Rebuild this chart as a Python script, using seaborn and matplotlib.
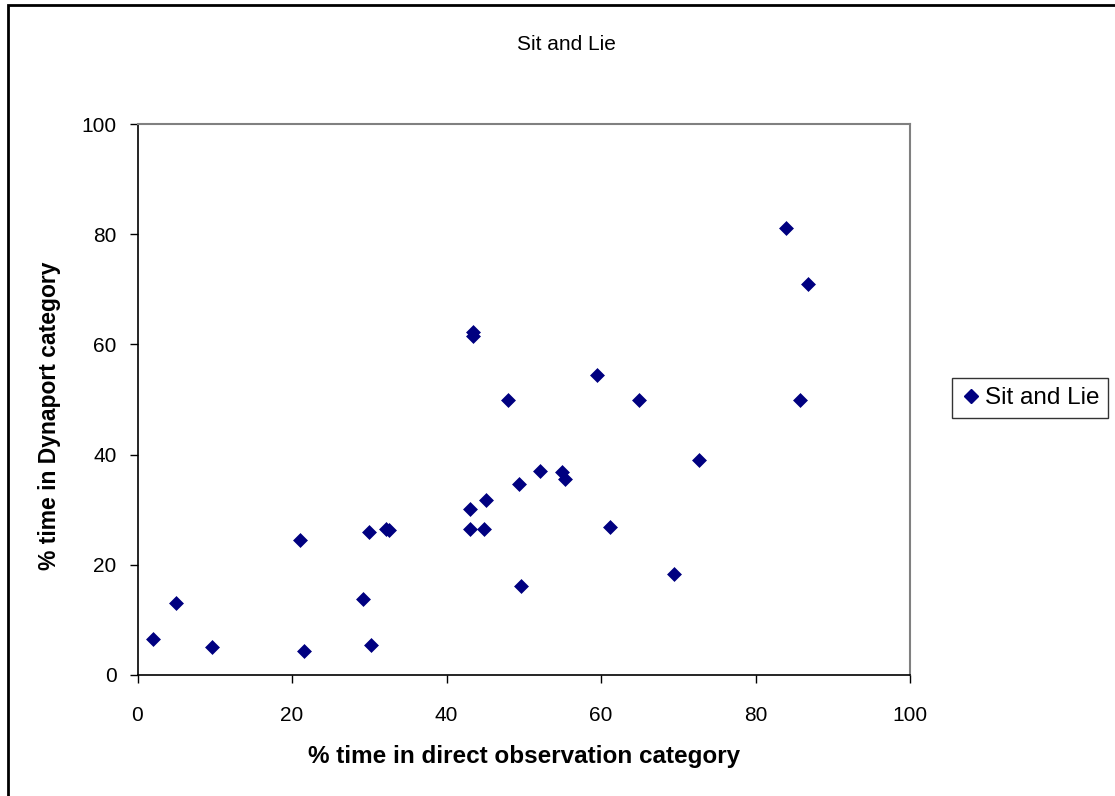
import matplotlib
matplotlib.use("Agg")
import matplotlib.pyplot as plt
import seaborn as sns
import pandas as pd
from matplotlib.patches import Rectangle
from matplotlib.lines import Line2D

# Data
direct_obs = [2.0, 5.0, 9.7, 21.0, 21.6, 29.2, 30.0, 30.2, 32.2, 32.6,
              43.4, 43.4, 59.5, 47.9, 64.9, 72.7, 52.1, 55.0, 55.3, 49.4,
              45.1, 43.1, 43.1, 44.9, 61.2, 69.4, 49.6, 84.0, 86.8, 85.8]
dynaport = [6.5, 13.1, 5.1, 24.5, 4.4, 13.8, 25.9, 5.5, 26.5, 26.3,
            62.3, 61.5, 54.4, 49.9, 49.9, 39.1, 37.0, 36.9, 35.5, 34.6,
            31.8, 30.1, 26.5, 26.5, 26.9, 18.3, 16.2, 81.1, 71.0, 49.9]
series_name = "Sit and Lie"
x_ticks = [0, 20, 40, 60, 80, 100]
y_ticks = [0, 20, 40, 60, 80, 100]

df = pd.DataFrame({"x": direct_obs, "y": dynaport, "series": series_name})

sns.set_theme(style="white")
plt.rcParams["font.family"] = ["Liberation Sans", "DejaVu Sans"]
plt.rcParams["text.color"] = "black"
plt.rcParams["axes.labelcolor"] = "black"

fig = plt.figure(figsize=(11.15, 7.96), dpi=100)
ax = fig.add_axes([137.5 / 1115, 1 - 675 / 796, (910 - 137.5) / 1115, (675 - 124) / 796])

sns.scatterplot(data=df, x="x", y="y", ax=ax, marker="D", s=50,
                color="#000080", edgecolor="#000080", linewidth=0.5, legend=False)

ax.set_xlim(0, 100)
ax.set_ylim(0, 100)
ax.set_xticks(x_ticks)
ax.set_yticks(y_ticks)
ax.tick_params(axis="both", which="major", direction="out", length=6, width=1,
               color="black", labelsize=15, labelcolor="black",
               bottom=True, left=True)
ax.tick_params(axis="x", pad=16)
ax.tick_params(axis="y", pad=9)
for side in ["left", "bottom"]:
    ax.spines[side].set_color("black")
    ax.spines[side].set_linewidth(1.2)
for side in ["top", "right"]:
    ax.spines[side].set_color("#808080")
    ax.spines[side].set_linewidth(1.5)
    ax.spines[side].set_visible(True)

ax.set_xlabel("% time in direct observation category", fontsize=17.5,
              fontweight="bold")
ax.set_ylabel("% time in Dynaport category", fontsize=16.5,
              fontweight="bold")
ax.xaxis.set_label_coords(0.5, -(757 - 675) / 551)
ax.xaxis.label.set_va("center")
ax.yaxis.set_label_coords((50 - 137.5) / 772.5, 0.47)
ax.yaxis.label.set_va("center")

fig.text(566 / 1115, 1 - 44 / 796, "Sit and Lie", ha="center", va="center",
         fontsize=15)

handle = Line2D([], [], marker="D", linestyle="none", color="#000080",
                markersize=7)
leg = fig.legend([handle], [series_name], loc="center left",
                 bbox_to_anchor=(952 / 1115, 1 - 398 / 796), frameon=True,
                 fontsize=17.5, handletextpad=0.1, borderpad=0.35,
                 handlelength=0.9, fancybox=False, borderaxespad=0)
leg.get_frame().set_edgecolor("black")
leg.get_frame().set_linewidth(1.0)

# outer chart frame (left and top visible)
fig.patches.append(Rectangle((8 / 1115, -0.05), 1.2, 1 - 5 / 796 + 0.05,
                             transform=fig.transFigure, fill=False,
                             edgecolor="black", linewidth=2, zorder=0))

fig.savefig("out.png", dpi=100, facecolor="white")
